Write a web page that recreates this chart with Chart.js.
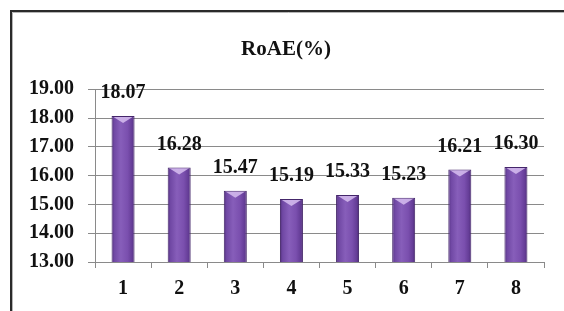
<!DOCTYPE html>
<html>
<head>
<meta charset="utf-8">
<script src="https://cdn.jsdelivr.net/npm/chart.js@4.4.1/dist/chart.umd.min.js"></script>
<style>
html,body{margin:0;padding:0;background:#fff;}
#wrap{width:564px;height:311px;position:relative;}
</style>
</head>
<body>
<div id="wrap"><canvas id="c" width="564" height="311"></canvas></div>
<script>
const categories = ['1','2','3','4','5','6','7','8'];
const roaeValues = [18.07, 16.28, 15.47, 15.19, 15.33, 15.23, 16.21, 16.30];
const yTickMin = 13;
const yTickMax = 19;
const yTickStep = 1;
const chartTitle = 'RoAE(%)';

const FONT = "'Liberation Serif', 'Times New Roman', serif";

const framePlugin = {
  id: 'frame',
  beforeDraw(chart) {
    const c = chart.ctx;
    c.save();
    c.fillStyle = '#fff';
    c.fillRect(0, 0, chart.width, chart.height);
    c.strokeStyle = '#2a2a2a';
    c.lineWidth = 2;
    c.beginPath();
    c.moveTo(11, chart.height);
    c.lineTo(11, 11);
    c.lineTo(chart.width, 11);
    c.stroke();
    c.strokeStyle = '#b5b5b5';
    c.lineWidth = 1;
    c.beginPath();
    c.moveTo(12.5, chart.height);
    c.lineTo(12.5, 12.5);
    c.lineTo(chart.width, 12.5);
    c.stroke();
    c.restore();
  }
};

const barDecor = {
  id: 'barDecor',
  afterDatasetsDraw(chart) {
    const c = chart.ctx;
    const meta = chart.getDatasetMeta(0);
    c.save();
    meta.data.forEach((bar, i) => {
      const w = bar.width;
      const left = bar.x - w / 2;
      c.fillStyle = 'rgba(215,190,240,0.85)';
      c.beginPath();
      c.moveTo(left + 2, bar.y + 1);
      c.lineTo(left + w - 2, bar.y + 1);
      c.lineTo(bar.x, bar.y + 7);
      c.closePath();
      c.fill();
      c.fillStyle = '#111';
      c.font = 'bold 20px ' + FONT;
      c.textAlign = 'center';
      c.textBaseline = 'middle';
      c.fillText(roaeValues[i].toFixed(2), bar.x, bar.y - 23);
    });
    c.restore();
  }
};

function barGradient(ctx) {
  const chart = ctx.chart;
  const xs = chart.scales ? chart.scales.x : null;
  const area = chart.chartArea;
  if (!xs || !area || ctx.dataIndex === undefined) return '#7a4fae';
  const cx = xs.getPixelForValue(ctx.dataIndex);
  const catW = (area.right - area.left) / categories.length;
  const w = catW * 0.41;
  if (!isFinite(cx) || !isFinite(w)) return '#7a4fae';
  const g = chart.ctx.createLinearGradient(cx - w / 2, 0, cx + w / 2, 0);
  g.addColorStop(0, '#53307f');
  g.addColorStop(0.12, '#7048a4');
  g.addColorStop(0.4, '#875eba');
  g.addColorStop(0.7, '#7a4fae');
  g.addColorStop(0.9, '#643c96');
  g.addColorStop(1, '#4b2a73');
  return g;
}

new Chart(document.getElementById('c'), {
  type: 'bar',
  data: {
    labels: categories,
    datasets: [{
      data: roaeValues,
      backgroundColor: barGradient,
      borderColor: '#44266a',
      borderWidth: 1,
      barPercentage: 0.41,
      categoryPercentage: 1
    }]
  },
  options: {
    responsive: false,
    animation: false,
    devicePixelRatio: 1,
    layout: { padding: { left: 28, right: 20, top: 0, bottom: 0 } },
    plugins: {
      legend: { display: false },
      tooltip: { enabled: false },
      title: {
        display: true,
        text: chartTitle,
        color: '#111',
        font: { family: FONT, size: 21, weight: 'bold' },
        padding: { top: 37, bottom: 27 }
      }
    },
    scales: {
      x: {
        afterFit(s) { s.height = 49; },
        grid: {
          display: true,
          drawOnChartArea: false,
          drawTicks: true,
          tickLength: 6,
          color: '#8a8a8a',
          offset: true
        },
        border: { display: true, color: '#8a8a8a', width: 1 },
        ticks: {
          color: '#111',
          padding: 9,
          font: { family: FONT, size: 20, weight: 'bold' }
        }
      },
      y: {
        min: yTickMin,
        max: yTickMax,
        afterFit(s) { s.width = 67; },
        ticks: {
          stepSize: yTickStep,
          color: '#111',
          padding: 14,
          font: { family: FONT, size: 20, weight: 'bold' },
          callback: v => Number(v).toFixed(2)
        },
        grid: {
          color: '#8a8a8a',
          tickLength: 7,
          drawTicks: true
        },
        border: { display: true, color: '#8a8a8a', width: 1 }
      }
    }
  },
  plugins: [framePlugin, barDecor]
});
</script>
</body>
</html>
